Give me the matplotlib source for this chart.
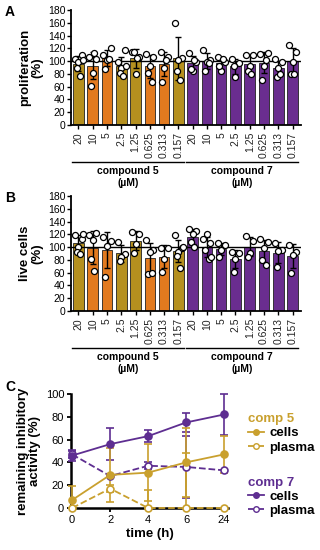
import numpy as np
import matplotlib
matplotlib.use("Agg")
import matplotlib.pyplot as plt
from matplotlib.lines import Line2D
import matplotlib.transforms as mtransforms

plt.rcParams['font.family'] = ['Liberation Sans', 'DejaVu Sans']

# ---- data ----
concs = ["20", "10", "5", "2.5", "1.25", "0.625", "0.313", "0.157"]

# panel A: proliferation (%) single points per concentration
prolif_c5 = [[103, 109, 98, 90, 76, 101], [107, 104, 81, 61, 112], [110, 121, 102, 87, 103],
             [99, 117, 89, 82, 76, 92], [115, 107, 80, 115, 105], [111, 107, 92, 82, 68],
             [114, 106, 89, 67, 102], [160, 105, 102, 85, 71]]
prolif_c7 = [[112, 99, 84, 87, 102], [118, 102, 99, 84, 97], [107, 99, 85, 92, 103],
             [103, 97, 75, 92], [110, 110, 92, 85, 80], [111, 113, 92, 71, 102],
             [103, 98, 89, 75, 80], [125, 115, 99, 80, 80]]

# panel B: live cells (%)
live_c5 = [[119, 113, 100, 93, 89, 121], [119, 122, 111, 82, 63], [116, 110, 101, 54],
           [108, 90, 85, 78], [124, 120, 105, 91], [111, 96, 93, 58, 60],
           [98, 99, 81, 61], [119, 98, 93, 86, 68, 100]]
live_c7 = [[129, 125, 121, 108, 100], [113, 107, 120, 95, 82, 85], [107, 103, 95, 85],
           [93, 91, 81, 61], [117, 110, 91, 85], [112, 108, 98, 80, 72],
           [107, 96, 94, 69], [103, 93, 87, 60]]

# panel C: remaining inhibitory activity (%)
times = ["0", "2", "4", "6", "24"]
c5_cells = [7, 29, 31, 40, 47]
c5_cells_sd = [12, 24, 25, 30, 16]
c5_plasma = [0, 17, 0, 0, 0]
c5_plasma_sd = [0, 3, 16, 48, 0]
c7_cells = [46, 56, 63, 75, 82]
c7_cells_sd = [5, 14, 5, 8, 18]
c7_plasma = [47, 28, 37, 36, 33]
c7_plasma_sd = [3, 1, 3, 27, 0]

OLIVE = "#b5901f"
ORANGE = "#e27a1f"
PURPLE = "#6a2d8f"
GOLD = "#c9a02e"
LPURPLE = "#5e2e91"
c5_colors = [OLIVE, ORANGE, ORANGE, OLIVE, OLIVE, ORANGE, ORANGE, OLIVE]

fig = plt.figure(figsize=(3.2, 5.5), dpi=100)


def bar_panel(ax, groups5, groups7, ylabel, letter):
    groups = groups5 + groups7
    x = np.arange(len(groups))
    means = [np.mean(g) for g in groups]
    sds = [np.std(g, ddof=1) for g in groups]
    colors = c5_colors + [PURPLE] * len(groups7)
    ax.bar(x, means, width=0.74, color=colors, edgecolor="#222222", linewidth=0.6, zorder=1)
    ax.errorbar(x, means, yerr=sds, fmt="none", ecolor="black", elinewidth=1,
                capsize=2, capthick=1, zorder=2)
    ax.axhline(100, color="black", lw=1, zorder=3)
    offs = [-0.25, 0.25, 0.0, -0.12, 0.12, 0.3]
    for xi, g in zip(x, groups):
        for k, v in enumerate(g):
            ax.scatter(xi + offs[k % len(offs)], v, s=19, facecolor="white",
                       edgecolor="black", linewidth=0.9, zorder=4, clip_on=False)
    ax.set_xlim(-0.52, 15.6)
    ax.set_ylim(0, 180)
    ax.set_yticks(range(0, 181, 20))
    ax.set_xticks(x)
    ax.set_xticklabels(concs + concs, rotation=90, fontsize=7.5, color="#222222")
    ax.tick_params(axis="y", labelsize=7.5, length=3, width=1, pad=1)
    ax.tick_params(axis="x", length=3, width=1, pad=2)
    for s in ["top", "right"]:
        ax.spines[s].set_visible(False)
    for s in ["left", "bottom"]:
        ax.spines[s].set_linewidth(1.3)
    ax.set_ylabel(ylabel, fontsize=9.5, fontweight="bold", labelpad=3, linespacing=1.1)
    trans = mtransforms.blended_transform_factory(ax.transData, ax.transAxes)
    for x0, x1, name in [(-0.45, 7.42, "compound 5"), (7.55, 15.4, "compound 7")]:
        ax.plot([x0, x1], [-0.32, -0.32], color="black", lw=1, transform=trans, clip_on=False)
        ax.text((x0 + x1) / 2, -0.36, name + "\n(\u00b5M)", transform=trans, ha="center",
                va="top", fontsize=7.5, fontweight="bold", linespacing=1.15)
    ax.text(-0.265, 0.98, letter, transform=ax.transAxes, fontsize=10, fontweight="bold",
            ha="center", va="center")


axA = fig.add_axes([0.222, 0.7727, 0.719, 0.2091])
bar_panel(axA, prolif_c5, prolif_c7, "proliferation\n(%)", "A")
axB = fig.add_axes([0.222, 0.4345, 0.719, 0.2091])
bar_panel(axB, live_c5, live_c7, "live cells\n(%)", "B")

# ---- panel C ----
axC = fig.add_axes([0.222, 0.0764, 0.49, 0.2073])
t = np.arange(len(times))
series = [
    (c7_plasma, c7_plasma_sd, LPURPLE, "--", "white"),
    (c7_cells, c7_cells_sd, LPURPLE, "-", LPURPLE),
    (c5_plasma, c5_plasma_sd, GOLD, "--", "white"),
    (c5_cells, c5_cells_sd, GOLD, "-", GOLD),
]
for y, sd, col, ls, fc in series:
    lower = np.minimum(sd, y)  # error bars stop at the x axis
    axC.errorbar(t, y, yerr=[lower, sd], color=col, ls=ls, lw=1.3, marker="o", ms=5,
                 mfc=fc, mec=col, mew=1.2, capsize=3, capthick=1.2, elinewidth=1.2,
                 clip_on=False, zorder=3)
axC.set_xlim(-0.03, 4.1)
axC.set_ylim(0, 100)
axC.set_yticks(range(0, 101, 20))
axC.set_xticks(t)
axC.set_xticklabels(times)
axC.tick_params(labelsize=8, length=3, width=1.3, pad=2)
for s in ["top", "right"]:
    axC.spines[s].set_visible(False)
for s in ["left", "bottom"]:
    axC.spines[s].set_linewidth(1.8)
axC.set_xlabel("time (h)", fontsize=9.5, fontweight="bold", labelpad=2)
axC.set_ylabel("remaining inhibitory\nactivity (%)", fontsize=9.5, fontweight="bold",
               labelpad=3, linespacing=1.1)
axC.text(-0.39, 1.06, "C", transform=axC.transAxes, fontsize=10, fontweight="bold",
         ha="center", va="center")


def handles(col):
    return [Line2D([], [], color=col, ls="-", lw=1.3, marker="o", ms=4, mfc=col, mec=col),
            Line2D([], [], color=col, ls="--", lw=1.3, marker="o", ms=4, mfc="white", mec=col)]


for col, title, ytop in [(GOLD, "comp 5", 0.263), (LPURPLE, "comp 7", 0.148)]:
    leg = fig.legend(handles(col), ["cells", "plasma"], title=title, loc="upper left",
                     bbox_to_anchor=(0.75, ytop), frameon=False, handlelength=1.2,
                     handletextpad=0.4, labelspacing=0.15, borderpad=0.1,
                     prop={"size": 9.5, "weight": "bold"},
                     title_fontproperties={"size": 9.5, "weight": "bold"})
    leg.get_title().set_color(col)
    leg._legend_box.align = "left"

fig.savefig("out.png", dpi=100)
